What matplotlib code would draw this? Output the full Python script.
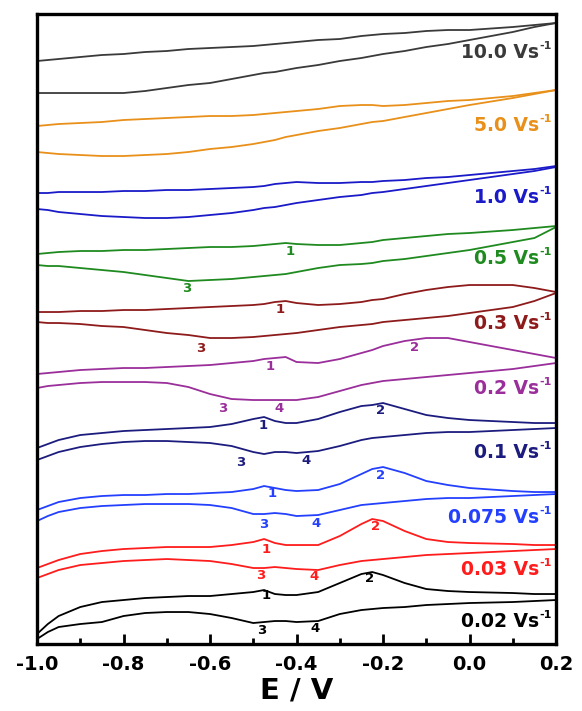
import matplotlib
matplotlib.use('Agg')
import matplotlib.pyplot as plt
from matplotlib.ticker import MultipleLocator

plt.rcParams['font.family'] = ['DejaVu Sans']
plt.rcParams['font.weight'] = 'bold'

# potential grid (V)
E = [-1.0, -0.975, -0.95, -0.9, -0.85, -0.8, -0.75, -0.7, -0.65, -0.6, -0.55, -0.5,
     -0.475, -0.45, -0.425, -0.4, -0.35, -0.3, -0.25, -0.225, -0.2, -0.15, -0.1,
     -0.05, 0.0, 0.1, 0.15, 0.2]

# scan rates, colours, label heights
rates = ['10.0', '5.0', '1.0', '0.5', '0.3', '0.2', '0.1', '0.075', '0.03', '0.02']
colors = ['#3a3a3a', '#e8901a', '#1a1ac8', '#1f8a1f', '#8e1b1b',
          '#9a2e9a', '#1c1c7e', '#2440ff', '#ff1c1c', '#000000']
label_y = [592, 519, 447, 386, 321, 256, 192, 127, 75, 23]

# stacked current (a.u.), forward (upper) and reverse (lower) branches
upper = [
    [583, 584, 585, 587, 589, 590, 592, 593, 595, 596, 597, 598, 599, 600, 601, 602, 604, 605, 608, 609, 610, 611, 613, 614, 614, 617, 619, 621],
    [518, 519, 520, 521, 522, 524, 525, 526, 527, 528, 528, 529, 530, 531, 532, 533, 535, 538, 539, 539, 538, 539, 541, 543, 544, 548, 551, 554],
    [451, 451, 452, 452, 452, 453, 453, 454, 454, 455, 456, 457, 458, 460, 461, 462, 461, 461, 462, 462, 463, 464, 466, 467, 469, 473, 475, 478],
    [390, 391, 392, 393, 393, 394, 394, 395, 396, 397, 397, 398, 399, 400, 401, 400, 399, 399, 401, 402, 404, 406, 408, 410, 411, 414, 416, 418],
    [332, 332, 332, 333, 333, 334, 334, 335, 336, 337, 338, 339, 340, 342, 343, 341, 339, 340, 342, 344, 345, 350, 354, 357, 359, 359, 356, 352],
    [270, 271, 272, 274, 275, 276, 276, 277, 278, 279, 281, 283, 285, 286, 287, 282, 281, 285, 291, 294, 298, 303, 306, 306, 302, 294, 290, 286],
    [196, 200, 204, 209, 211, 213, 214, 215, 216, 217, 220, 225, 227, 223, 221, 221, 225, 232, 238, 239, 241, 235, 229, 226, 224, 222, 221, 221],
    [134, 138, 142, 146, 148, 149, 149, 150, 150, 151, 152, 155, 158, 156, 154, 153, 154, 160, 170, 175, 177, 171, 163, 159, 156, 153, 152, 152],
    [76, 80, 84, 90, 93, 95, 96, 97, 97, 97, 99, 102, 105, 101, 99, 99, 99, 108, 120, 125, 123, 113, 105, 102, 101, 100, 99, 99],
    [10, 20, 28, 37, 42, 44, 46, 47, 48, 48, 50, 52, 54, 50, 49, 49, 52, 61, 70, 72, 69, 61, 55, 53, 52, 51, 50, 50],
]
lower = [
    [551, 551, 551, 551, 551, 551, 553, 556, 559, 561, 565, 569, 571, 572, 574, 576, 579, 583, 586, 588, 590, 593, 597, 600, 604, 612, 617, 621],
    [492, 491, 490, 489, 488, 488, 489, 490, 492, 495, 497, 500, 502, 504, 507, 509, 513, 516, 520, 522, 523, 527, 531, 535, 539, 546, 550, 554],
    [435, 434, 432, 430, 428, 427, 426, 426, 427, 429, 431, 434, 436, 437, 439, 441, 444, 447, 449, 451, 452, 455, 458, 461, 464, 470, 473, 477],
    [379, 378, 378, 376, 374, 372, 369, 366, 363, 364, 365, 367, 368, 369, 370, 372, 376, 379, 380, 381, 383, 385, 388, 391, 394, 402, 406, 417],
    [322, 321, 321, 320, 318, 317, 314, 311, 309, 306, 306, 307, 308, 309, 310, 311, 314, 317, 319, 320, 322, 324, 326, 328, 331, 337, 343, 351],
    [256, 258, 259, 261, 262, 262, 262, 261, 257, 250, 245, 244, 244, 244, 244, 244, 247, 253, 259, 261, 263, 265, 267, 269, 271, 275, 278, 281],
    [184, 188, 192, 197, 200, 202, 203, 203, 202, 201, 198, 192, 190, 192, 192, 191, 193, 198, 204, 206, 207, 209, 211, 212, 212, 214, 215, 216],
    [123, 128, 132, 136, 138, 139, 140, 140, 140, 139, 136, 130, 130, 131, 130, 128, 129, 134, 139, 140, 141, 143, 145, 146, 146, 148, 149, 150],
    [66, 70, 74, 79, 81, 83, 84, 85, 84, 83, 80, 76, 76, 77, 76, 75, 74, 79, 83, 84, 85, 87, 89, 90, 91, 93, 94, 95],
    [5, 12, 17, 20, 22, 28, 31, 32, 32, 30, 26, 21, 22, 23, 23, 22, 23, 30, 34, 35, 36, 37, 39, 40, 41, 42, 43, 44],
]

# peak numbers: (curve index, text, E, y)
peaks = [
    (3, '1', -0.415, 393), (3, '3', -0.653, 356),
    (4, '1', -0.438, 335), (4, '3', -0.621, 296),
    (5, '1', -0.461, 278), (5, '2', -0.128, 297), (5, '3', -0.570, 236), (5, '4', -0.440, 236),
    (6, '1', -0.477, 219), (6, '2', -0.205, 234), (6, '3', -0.528, 182), (6, '4', -0.378, 184),
    (7, '1', -0.457, 151), (7, '2', -0.205, 169), (7, '3', -0.475, 120), (7, '4', -0.355, 121),
    (8, '1', -0.471, 95), (8, '2', -0.218, 118), (8, '3', -0.484, 69), (8, '4', -0.360, 68),
    (9, '1', -0.471, 49), (9, '2', -0.232, 66), (9, '3', -0.480, 14), (9, '4', -0.357, 16),
]

fig = plt.figure(figsize=(5.82, 7.11), dpi=100)
ax = fig.add_axes([0.0636, 0.0942, 0.8918, 0.8861])

for i in range(len(rates)):
    ax.plot(E, upper[i], color=colors[i], lw=1.3, solid_joinstyle='round')
    ax.plot(E, lower[i], color=colors[i], lw=1.3, solid_joinstyle='round')
    main = ax.text(0.161, label_y[i], rates[i] + ' Vs', color=colors[i],
                   fontsize=13.5, fontweight='bold', ha='right', va='center')
    ax.annotate('-1', xy=(1, 0.8), xycoords=main, xytext=(0.5, 0),
                textcoords='offset points', color=colors[i], fontsize=8,
                fontweight='bold', ha='left', va='center')

for ci, t, x, y in peaks:
    ax.text(x, y, t, color=colors[ci], fontsize=9.5, fontweight='bold',
            ha='center', va='center')

ax.set_xlim(-1.0, 0.2)
ax.set_ylim(0, 630)
ax.set_yticks([])
ax.xaxis.set_major_locator(MultipleLocator(0.2))
ax.xaxis.set_minor_locator(MultipleLocator(0.1))
ax.tick_params(axis='x', which='major', direction='in', length=7, width=2, labelsize=14, pad=8)
ax.tick_params(axis='x', which='minor', direction='in', length=4, width=2)
for s in ax.spines.values():
    s.set_linewidth(2.4)
ax.set_xticks([-1.0, -0.8, -0.6, -0.4, -0.2, 0.0, 0.2])
ax.set_xticklabels(['-1.0', '-0.8', '-0.6', '-0.4', '-0.2', '0.0', '0.2'], fontweight='bold')
ax.set_xlabel('E / V', fontsize=21, fontweight='bold', labelpad=2)

fig.savefig('out.png', dpi=100)
